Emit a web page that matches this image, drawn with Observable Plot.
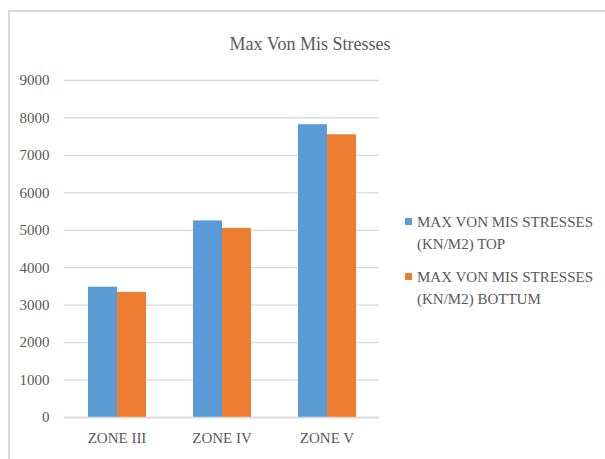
<!DOCTYPE html>
<html>
<head>
<meta charset="utf-8">
<script src="https://cdn.jsdelivr.net/npm/d3@7"></script>
<script src="https://cdn.jsdelivr.net/npm/@observablehq/plot@0.6"></script>
<style>
  html, body { margin: 0; padding: 0; background: #fff; }
  #wrap { position: relative; width: 605px; height: 459px; overflow: hidden; background: #fff;
          font-family: "Liberation Serif", "DejaVu Serif", serif; color: #595959; }
  #frame { position: absolute; left: 8px; top: 10px; width: 620px; height: 470px;
           border-left: 2px solid #d9d9d9; border-top: 2px solid #d9d9d9; }
  #title { position: absolute; left: 0; width: 620px; top: 33px; text-align: center;
           font-size: 18px; line-height: 22px; }
  #chart { position: absolute; left: 0; top: 0; width: 605px; height: 459px; }
  #chart svg text { font-family: "Liberation Serif", serif; font-size: 15px; fill: #595959; }
  #legend { position: absolute; left: 405px; top: 211px; width: 195px; font-size: 15px; line-height: 22px;
            font-family: "Liberation Serif", serif; }
  .item { position: relative; padding-left: 12px; margin-bottom: 11px; }
  .sw { position: absolute; left: 0; top: 7px; width: 7px; height: 7px; }
</style>
</head>
<body>
<div id="wrap">
  <div id="frame"></div>
  <div id="title">Max Von Mis Stresses</div>
  <div id="chart"></div>
  <div id="legend"></div>
</div>
<script>
const zones = ["ZONE III", "ZONE IV", "ZONE V"];
const seriesNames = ["MAX VON MIS STRESSES (KN/M2) TOP", "MAX VON MIS STRESSES (KN/M2) BOTTUM"];
const topValues = [3480, 5250, 7820];
const bottomValues = [3340, 5050, 7550];
const yTicks = [0, 1000, 2000, 3000, 4000, 5000, 6000, 7000, 8000, 9000];
const colors = ["#5b9bd5", "#ed7d31"];

const data = [];
zones.forEach((z, i) => {
  data.push({zone: z, series: seriesNames[0], value: topValues[i]});
  data.push({zone: z, series: seriesNames[1], value: bottomValues[i]});
});

const chart = Plot.plot({
  width: 605,
  height: 459,
  marginLeft: 63,
  marginRight: 225,
  marginTop: 80,
  marginBottom: 42,
  style: {fontFamily: "Liberation Serif, serif", fontSize: "15px", color: "#595959", background: "transparent"},
  fx: {domain: zones, paddingInner: 0, paddingOuter: 0, label: null, axis: null},
  x: {domain: seriesNames, paddingInner: 0, paddingOuter: 0.756, axis: null},
  y: {domain: [0, 9000], label: null, axis: null},
  color: {domain: seriesNames, range: colors},
  marks: [
    Plot.ruleY(yTicks, {stroke: "#d9d9d9", strokeWidth: 1.3}),
    Plot.barY(data, {fx: "zone", x: "series", y: "value", fill: "series"}),
    Plot.ruleY([0], {stroke: "#d9d9d9", strokeWidth: 1.5}),
    Plot.axisY({ticks: yTicks, tickSize: 0, tickPadding: 15, label: null, tickFormat: d => String(d),
                fontSize: 15, fill: "#595959"}),
    Plot.axisFx({anchor: "bottom", tickSize: 0, tickPadding: 15, label: null,
                 fontSize: 15, fill: "#595959"})
  ]
});
document.getElementById("chart").appendChild(chart);

const legend = document.getElementById("legend");
seriesNames.forEach((name, i) => {
  const item = document.createElement("div");
  item.className = "item";
  const sw = document.createElement("span");
  sw.className = "sw";
  sw.style.background = colors[i];
  item.appendChild(sw);
  item.appendChild(document.createTextNode(name));
  legend.appendChild(item);
});
</script>
</body>
</html>
